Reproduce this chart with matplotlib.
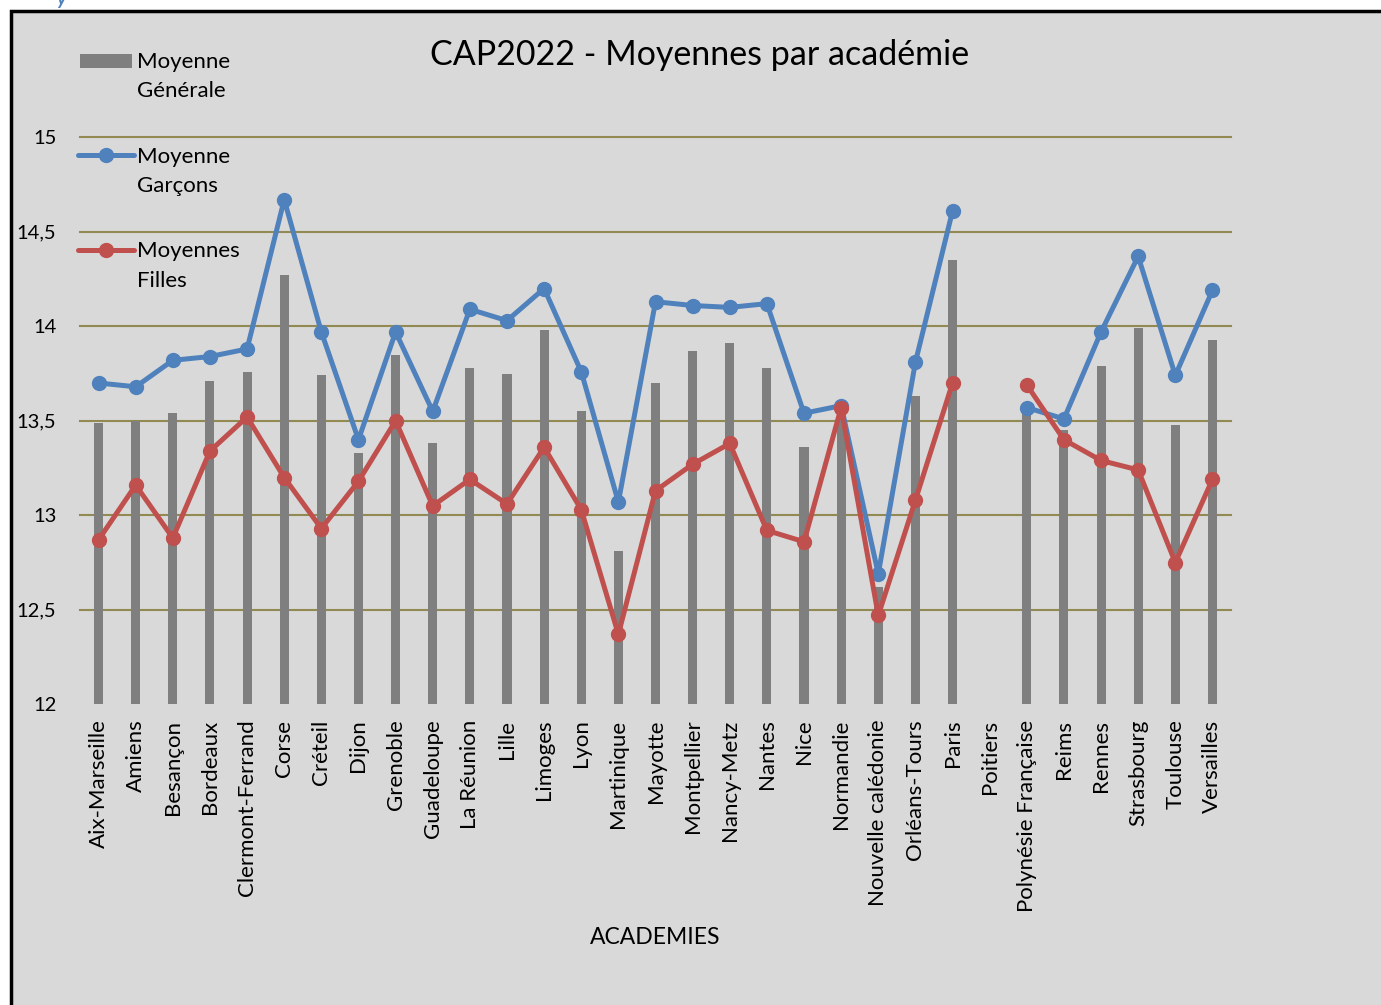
import matplotlib
matplotlib.use("Agg")
import matplotlib.pyplot as plt
import numpy as np
from matplotlib.lines import Line2D
from matplotlib.patches import Rectangle

plt.rcParams["font.family"] = ["Lato", "DejaVu Sans"]

academies = [
    "Aix-Marseille", "Amiens", "Besançon", "Bordeaux", "Clermont-Ferrand",
    "Corse", "Créteil", "Dijon", "Grenoble", "Guadeloupe", "La Réunion",
    "Lille", "Limoges", "Lyon", "Martinique", "Mayotte", "Montpellier",
    "Nancy-Metz", "Nantes", "Nice", "Normandie", "Nouvelle calédonie",
    "Orléans-Tours", "Paris", "Poitiers", "Polynésie Française", "Reims",
    "Rennes", "Strasbourg", "Toulouse", "Versailles",
]
nan = np.nan
moy_generale = [13.49, 13.50, 13.54, 13.71, 13.76, 14.27, 13.74, 13.33, 13.85,
                13.38, 13.78, 13.75, 13.98, 13.55, 12.81, 13.70, 13.87, 13.91,
                13.78, 13.36, 13.54, 12.62, 13.63, 14.35, nan, 13.58, 13.45,
                13.79, 13.99, 13.48, 13.93]
moy_garcons = [13.70, 13.68, 13.82, 13.84, 13.88, 14.67, 13.97, 13.40, 13.97,
               13.55, 14.09, 14.03, 14.20, 13.76, 13.07, 14.13, 14.11, 14.10,
               14.12, 13.54, 13.58, 12.69, 13.81, 14.61, nan, 13.57, 13.51,
               13.97, 14.37, 13.74, 14.19]
moy_filles = [12.87, 13.16, 12.88, 13.34, 13.52, 13.20, 12.93, 13.18, 13.50,
              13.05, 13.19, 13.06, 13.36, 13.03, 12.37, 13.13, 13.27, 13.38,
              12.92, 12.86, 13.57, 12.47, 13.08, 13.70, nan, 13.69, 13.40,
              13.29, 13.24, 12.75, 13.19]
yticks = [12, 12.5, 13, 13.5, 14, 14.5, 15]

W, H = 1381, 1005
BLUE = "#4f81bd"
RED = "#c0504d"
GREY = "#7f7f7f"
GRID = "#938953"


def fx(px):
    return px / W


def fy(py):
    return 1 - py / H


fig = plt.figure(figsize=(W / 100, H / 100), dpi=100, facecolor="white")

# chart frame (only top and left borders fall inside the picture)
fig.add_artist(Rectangle((fx(10.5), fy(1030)), fx(1400), fy(11) - fy(1030),
                         transform=fig.transFigure, facecolor="#d9d9d9",
                         edgecolor="black", linewidth=2.5, zorder=0))
fig.text(fx(56), fy(-9), "y", color=BLUE, fontsize=14, style="italic",
         fontweight="bold", va="top", ha="left")

ax = fig.add_axes([fx(80), fy(704.3), fx(1231) - fx(80), fy(137.3) - fy(704.3)])
ax.set_facecolor("none")
x = np.arange(len(academies))

for v in yticks[1:]:
    ax.axhline(v, color=GRID, linewidth=1.5, zorder=0, clip_on=False)

ax.bar(x, moy_generale, width=0.245, color=GREY, zorder=2)
ax.plot(x, moy_garcons, color=BLUE, linewidth=3.6, marker="o", markersize=10,
        zorder=3)
ax.plot(x, moy_filles, color=RED, linewidth=3.6, marker="o", markersize=10,
        zorder=4)

ax.set_xlim(-0.5, len(academies) - 0.5)
ax.set_ylim(12, 15)
ax.set_yticks(yticks)
ax.set_yticklabels([f"{v:g}".replace(".", ",") for v in yticks], fontsize=14.5)
ax.set_xticks(x)
ax.set_xticklabels(academies, rotation=90, fontsize=16, va="top")
ax.tick_params(axis="y", length=0, pad=17)
ax.tick_params(axis="x", length=0, pad=11)
for s in ax.spines.values():
    s.set_visible(False)

fig.text(fx(699.5), fy(55), "CAP2022 - Moyennes par académie", fontsize=24.5,
         ha="center", va="center")
fig.text(fx(655.5), fy(937), "ACADEMIES", fontsize=16.5, ha="center",
         va="center")

# legend, drawn by hand to keep the handle on the first text line
fig.add_artist(Rectangle((fx(80), fy(68)), fx(52), fy(54) - fy(68),
                         transform=fig.transFigure, facecolor=GREY,
                         edgecolor="none"))
for color, yline in [(BLUE, 155.5), (RED, 250)]:
    fig.add_artist(Line2D([fx(78), fx(134)], [fy(yline), fy(yline)],
                          transform=fig.transFigure, color=color,
                          linewidth=3.6, solid_capstyle="round"))
    fig.add_artist(Line2D([fx(106)], [fy(yline)], transform=fig.transFigure,
                          color=color, marker="o", markersize=10))
legend_lines = [("Moyenne", 68), ("Générale", 97), ("Moyenne", 163),
                ("Garçons", 192.5), ("Moyennes", 257), ("Filles", 287)]
for txt, yb in legend_lines:
    fig.text(fx(137), fy(yb), txt, fontsize=16, ha="left", va="baseline")

fig.savefig("out.png", dpi=100)
